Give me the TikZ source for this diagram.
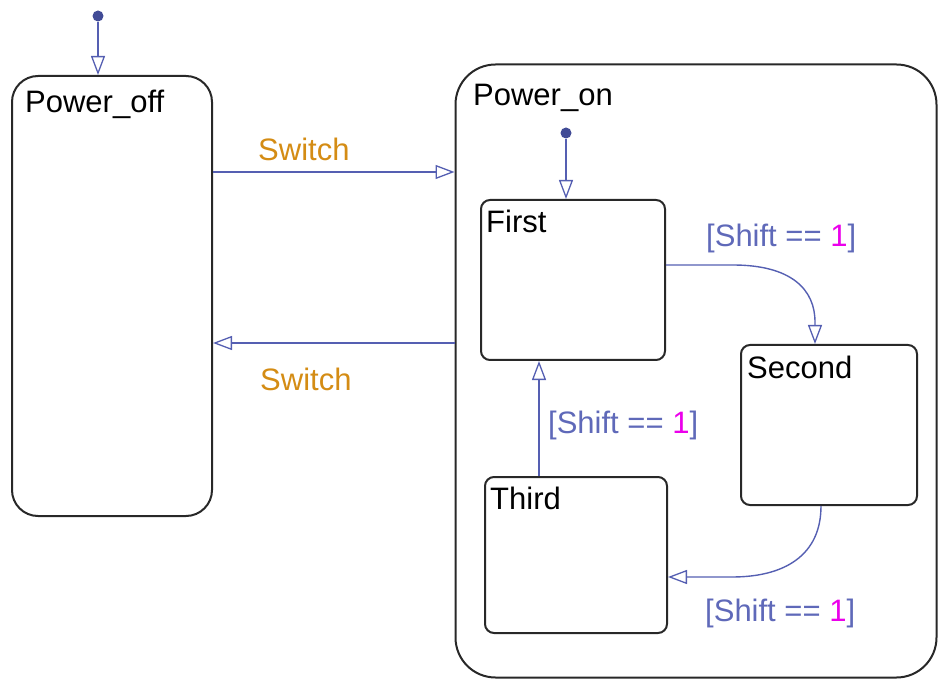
\documentclass[tikz,border=0pt]{standalone}
\usepackage{fontspec}
\setmainfont{Liberation Sans}
\usetikzlibrary{arrows.meta}
\definecolor{trcol}{RGB}{85,95,178}
\definecolor{dotcol}{RGB}{65,75,150}
\definecolor{lblue}{RGB}{95,105,185}
\definecolor{evorange}{RGB}{212,140,20}
\definecolor{numcol}{RGB}{235,0,235}
\definecolor{bordercol}{RGB}{40,40,40}
\tikzset{
  bigstate/.style={draw=bordercol, line width=2pt, rounded corners=#1, minimum width=0pt, minimum height=0pt, inner sep=0pt},
  stname/.style={anchor=base west, inner sep=0pt, text=black, font=\fontsize{31}{36}\selectfont},
  evlabel/.style={anchor=base west, inner sep=0pt, text=evorange, font=\fontsize{31}{36}\selectfont},
  guardlabel/.style={anchor=base west, inner sep=0pt, text=lblue, font=\fontsize{31}{36}\selectfont},
  tr/.style={draw=trcol, line width=1.4pt, -{Triangle[open, length=19pt, width=14pt, line width=1.3pt]}},
  initdot/.style={circle, fill=dotcol, inner sep=0pt, minimum size=11pt},
}
\newcommand{\guard}{[Shift == \textcolor{numcol}{1}]}
\begin{document}
\begin{tikzpicture}[x=1pt, y=-1pt]
\useasboundingbox (0,0) rectangle (938,679);
% states
\node[bigstate=26pt, minimum width=200pt, minimum height=440pt] (off) at (112,296) {};
\node[bigstate=40pt, minimum width=481pt, minimum height=613pt] (on) at (696,371) {};
\node[bigstate=9pt, minimum width=184pt, minimum height=160pt] (first) at (573,280) {};
\node[bigstate=9pt, minimum width=176pt, minimum height=160pt] (second) at (829,425) {};
\node[bigstate=9pt, minimum width=182pt, minimum height=156pt] (third) at (576,555) {};
% state names
\node[stname] (offname) at (25,113) {Power\_off};
\node[stname] (onname) at (473,106) {Power\_on};
\node[stname] (firstname) at (486,233) {First};
\node[stname] (secondname) at (747,378) {Second};
\node[stname] (thirdname) at (490,509) {Third};
% default transitions
\node[initdot] (init1) at (98,16) {};
\node[initdot] (init2) at (566,133) {};
\draw[tr] (init1) -- (init1 |- off.north);
\draw[tr] (init2) -- (init2 |- first.north);
% Switch transitions
\draw[tr] (off.east |- 0,172) -- (on.west |- 0,172);
\draw[tr] (on.west |- 0,343) -- (off.east |- 0,343);
\node[evlabel] (sw1) at (258,161) {Switch};
\node[evlabel] (sw2) at (260,390) {Switch};
% inner transitions
\coordinate (c1) at (733,265);
\coordinate (c2) at (815,322);
\draw[tr] (first.east |- 0,265) -- (c1) .. controls (792,265) and (815,290) .. (c2) -- (815,0 |- second.north);
\coordinate (c3) at (821,0 |- second.south);
\coordinate (c4) at (732,577);
\draw[tr] (c3) .. controls (821,555) and (785,577) .. (c4) -- (third.east |- 0,577);
\draw[tr] (539,0 |- third.north) -- (539,0 |- first.south);
\node[guardlabel] (g1) at (706,247) {\guard};
\node[guardlabel] (g2) at (548,433) {\guard};
\node[guardlabel] (g3) at (705,621) {\guard};
\end{tikzpicture}
\end{document}
